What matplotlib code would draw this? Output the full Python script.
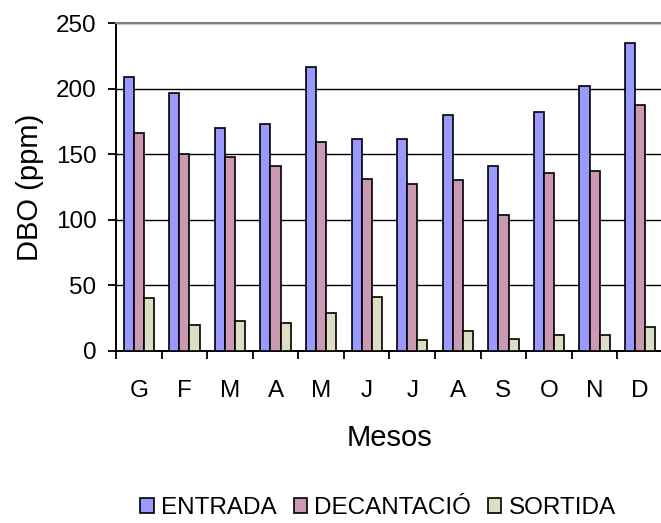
import matplotlib.pyplot as plt
import numpy as np

plt.rcParams["font.family"] = ["Liberation Sans", "DejaVu Sans"]

MONTHS = ["G", "F", "M", "A", "M", "J", "J", "A", "S", "O", "N", "D"]
ENTRADA = [209, 197, 170, 173, 217, 162, 162, 180, 141, 182, 202, 235]
DECANTACIO = [166, 150, 148, 141, 159, 131, 127, 130, 104, 136, 137, 188]
SORTIDA = [40, 20, 23, 21, 29, 41, 8, 15, 9, 12, 12, 18]

SERIES = [
    ("ENTRADA", ENTRADA, "#9999FF"),
    ("DECANTACIÓ", DECANTACIO, "#CC99B4"),
    ("SORTIDA", SORTIDA, "#DEDEC4"),
]


def main():
    fig = plt.figure(figsize=(6.61, 5.23), dpi=100)
    ax = fig.add_axes([0.1755, 0.3294, 0.8275, 0.626])

    x = np.arange(len(MONTHS))
    width = 1 / 4.5
    for i, (name, vals, color) in enumerate(SERIES):
        ax.bar(x + (i - 1) * width, vals, width, color=color, edgecolor="black",
               linewidth=1.2, label=name, zorder=3)

    ax.set_xlim(-0.5, len(MONTHS) - 0.5)
    ax.set_ylim(0, 250)
    ax.set_yticks(range(0, 251, 50))
    ax.yaxis.grid(True, color="black", linewidth=1.0, zorder=0)

    ax.set_xticks(x)
    ax.set_xticklabels(MONTHS)
    ax.set_xticks(np.arange(-0.5, len(MONTHS), 1), minor=True)
    ax.tick_params(axis="x", which="major", length=0, pad=21, labelsize=17.5)
    ax.tick_params(axis="x", which="minor", length=6, width=1.3, direction="out")
    ax.tick_params(axis="y", length=6, width=1.3, pad=8, labelsize=17.5)

    ax.spines["right"].set_visible(False)
    ax.spines["top"].set_color("#808080")
    ax.spines["top"].set_linewidth(1.5)
    ax.spines["left"].set_linewidth(1.4)
    ax.spines["bottom"].set_linewidth(1.4)

    ax.set_ylabel("DBO (ppm)", fontsize=21)
    ax.yaxis.set_label_coords(-0.132, 0.5)
    ax.set_xlabel("Mesos", fontsize=21)
    ax.xaxis.set_label_coords(0.50, -0.225)

    fig.legend(loc="center", bbox_to_anchor=(0.572, 0.029), ncol=3, frameon=False,
               fontsize=17.5, handlelength=0.55, handleheight=0.55, handletextpad=0.3,
               columnspacing=0.7)

    fig.savefig("out.png", dpi=100)
    plt.close(fig)


if __name__ == "__main__":
    main()
